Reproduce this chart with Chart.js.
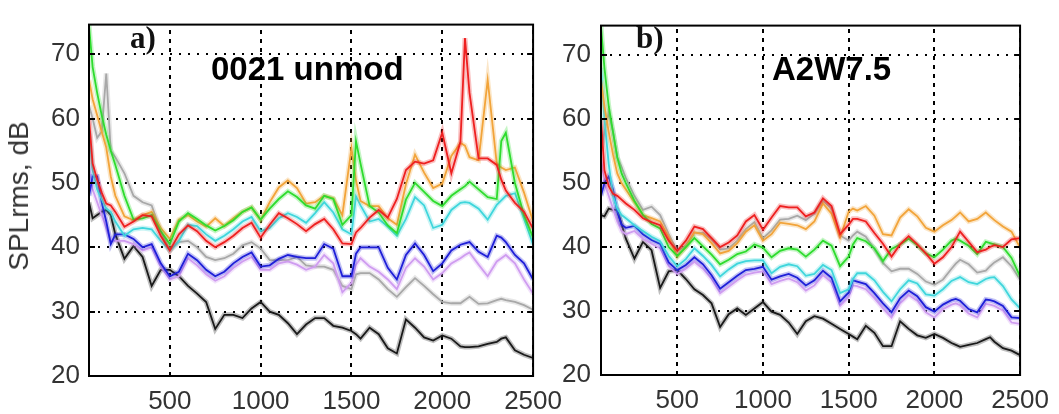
<!DOCTYPE html>
<html>
<head>
<meta charset="utf-8">
<script src="https://cdn.jsdelivr.net/npm/chart.js@4.4.0/dist/chart.umd.min.js"></script>
<style>
  html, body { margin: 0; padding: 0; background: #fff; }
  body { width: 1059px; height: 414px; position: relative; overflow: hidden; font-family: "Liberation Sans", Arial, sans-serif; }
  .box { position: absolute; top: 0; height: 414px; }
  #boxA { left: 0; width: 572px; }
  #boxB { left: 520px; width: 539px; }
  .tag { position: absolute; font-family: "Liberation Serif", "Times New Roman", serif; font-weight: bold; font-size: 31px; line-height: 31px; color: #111; }
  .ttl { position: absolute; font-weight: bold; font-size: 33px; line-height: 33px; color: #000; white-space: nowrap; }
  #ylab { position: absolute; left: 19px; top: 196px; transform: translate(-50%, -50%) rotate(-90deg); font-size: 28px; color: #333; white-space: nowrap; }
</style>
</head>
<body>
<div class="box" id="boxA"><canvas id="chartA"></canvas></div>
<div class="box" id="boxB"><canvas id="chartB"></canvas></div>
<div id="ylab">SPLrms, dB</div>
<div class="tag" style="left:130px; top:22px;">a)</div>
<div class="tag" style="left:636px; top:22px;">b)</div>
<div class="ttl" style="left:211px; top:52px;">0021 unmod</div>
<div class="ttl" style="left:772px; top:52px;">A2W7.5</div>
<script>
// frequency grid (Hz) shared by every curve
const freq = [55, 75, 100, 125, 150, 175, 200,
  250, 300, 350, 400, 450, 500, 550, 600, 650, 700,
  750, 800, 850, 900, 950, 1000, 1050, 1100, 1150, 1200,
  1250, 1300, 1350, 1400, 1450, 1500, 1525, 1550, 1600, 1650,
  1700, 1750, 1800, 1850, 1900, 1950, 2000, 2050, 2100, 2125,
  2150, 2200, 2250, 2300, 2325, 2350, 2400, 2450, 2500];

const xTicks = [500, 1000, 1500, 2000, 2500];
const yTicks = [20, 30, 40, 50, 60, 70];

// ---- panel a) 0021 unmod ----
const blackA = [47, 44.5, 45, 45.5, 45.8, 45, 42,
  38.2, 40.2, 38.5, 34, 36.5, 36.5, 35.5, 34, 32.8, 31.5,
  27.3, 29.5, 29.5, 29, 30.5, 31.5, 30, 29.5, 28.2, 26.5,
  28, 29, 29, 27.8, 27.5, 27, 26.5, 25.8, 27.5, 26.5,
  24.3, 23.5, 28.8, 27.5, 26, 25.5, 26.3, 25.8, 24.6, 24.5,
  24.5, 24.6, 25, 25.3, 25.8, 26, 24, 23.3, 22.8];
const grayA = [62, 60, 57, 58, 67, 55, 54,
  51.5, 48, 47, 46.5, 42.5, 39.5, 40.8, 41, 40, 38.5,
  38, 38.3, 39, 40.3, 40.8, 39.8, 38, 38, 38, 38.5,
  37.2, 37, 37, 36.5, 34, 33.5, 35.8, 36, 36, 35,
  33.5, 32.3, 33.8, 35.2, 34, 32.7, 31.5, 31.3, 31.3, 31.8,
  32.3, 31.2, 31.3, 31.8, 32, 31.8, 31.5, 31, 30.3];
const violetA = [53, 49, 47, 45, 43, 41, 41,
  41, 40.5, 39.5, 40, 37, 35, 35.5, 38.3, 37.2, 35.8,
  34.8, 35.5, 36.8, 37.8, 38.5, 36.5, 36.5, 37.5, 37.8, 37.3,
  36.5, 37, 38.8, 37.5, 33, 34.5, 37.3, 38.3, 37, 36.2,
  35, 33.5, 36.8, 38.3, 37, 35, 36, 37.5, 38.3, 38.8,
  39.2, 37.3, 35.5, 37.8, 38.3, 38.8, 37.5, 35, 32.8];
const blueA = [48, 51, 51, 47, 44, 40.5, 42,
  42, 41.3, 40, 40.5, 37.5, 35.5, 36.2, 39, 38, 36.5,
  35.5, 36.2, 37.5, 38.5, 39.2, 37, 37.2, 38.2, 38.8, 38.5,
  38.3, 38.3, 40.5, 39.8, 35.5, 35.5, 39, 40, 40, 40,
  36.8, 35, 38.8, 40.6, 38.8, 36.3, 37.5, 39.5, 40.4, 40.6,
  40.8, 39.3, 38.5, 41.8, 41.5, 40.8, 38.8, 37.5, 35];
const cyanA = [58, 52, 49, 47.5, 46, 45.5, 44,
  41.8, 42.8, 43, 42.8, 41, 39.5, 41, 43.5, 43.3, 42,
  41, 41.8, 42.8, 44, 44.7, 42.5, 43, 44.5, 45.3, 44.7,
  43.8, 45.3, 47, 45.4, 42.8, 42, 47.9, 46.5, 44, 44.4,
  43.2, 41.8, 44.4, 47.8, 46.5, 43, 43.5, 45.8, 46.9, 47,
  46.9, 46, 44.3, 46.6, 47.3, 48, 48.4, 44.5, 40.4];
const redA = [60, 53, 50.5, 48.5, 46.8, 46.5, 45.5,
  43.2, 44, 45, 44.8, 41.8, 39.5, 42, 43.4, 42.5, 41,
  40, 40.8, 41.8, 43, 43.8, 41.5, 43.5, 45.3, 44.5, 43.6,
  42.5, 43.6, 44.4, 42.8, 40.6, 40.5, 42.3, 43, 44.6, 45.8,
  44.6, 47.5, 52, 53.3, 53, 53.5, 57.8, 51.5, 56.4, 72.5,
  64, 53.8, 53.8, 52.8, 50.5, 48.8, 46.9, 45.5, 42.9];
const greenA = [74.5, 68, 64, 60.5, 57.5, 55, 52.8,
  48, 44.3, 44.5, 45, 42.5, 40.5, 44, 45.3, 44.4, 43.4,
  42.6, 43.3, 44.2, 45.5, 46.2, 44.3, 46, 47.5, 48.7, 47.8,
  46.5, 46, 48, 47.5, 43.5, 45, 56.5, 53, 46.4, 45.4,
  43.4, 42.2, 47.4, 50, 48.6, 47.2, 46.4, 48, 49, 49.5,
  50.2, 49, 47.8, 47.5, 56.5, 57.8, 50, 45, 41.5];
const orangeA = [66, 63, 60.5, 58, 55.5, 51, 48,
  44.8, 44.2, 45, 45.5, 43, 41.3, 44.3, 45, 44, 43.2,
  44.5, 43.3, 44.5, 45.5, 46.2, 44.2, 47, 49.3, 50.4, 49.2,
  46.8, 47, 48, 47.6, 45, 55.4, 50.4, 47.2, 46.4, 46.4,
  44.5, 43.5, 49.8, 54.4, 51.6, 49.2, 49.9, 54.2, 56.2, 55.8,
  54, 53.5, 66, 53, 52.4, 52, 52.4, 48.5, 44];

// ---- panel b) A2W7.5 ----
const blackB = [45, 44.8, 46, 45.8, 45.8, 43.5, 41.3,
  38.2, 40.8, 39.5, 33.6, 36.2, 36.4, 35, 33.4, 32.5, 31.2,
  27.5, 29.5, 30.4, 29.4, 30.4, 31.4, 29.9, 29.4, 28.2, 26.4,
  28.4, 29.2, 28.8, 28, 27.2, 26.4, 26, 25.6, 27.7, 26.6,
  24.5, 24.5, 28.4, 27.2, 26.2, 25.8, 26.4, 25.8, 25, 24.7,
  24.4, 24.7, 25, 25.6, 25.9, 25.2, 24.2, 23.8, 23.1];
const grayB = [55, 58, 61, 58, 54, 52.5, 50.8,
  48, 45.8, 46.3, 45, 42, 39.4, 40.2, 42.2, 42.2, 41.2,
  39.6, 39.8, 41, 42.8, 43.9, 41.4, 42.6, 44.3, 44.4, 44.9,
  44.2, 45.2, 47.2, 46, 41.8, 41, 41.8, 42.4, 41.6, 39.7,
  37.5, 36.2, 36.6, 36.6, 35.8, 34.6, 34.1, 34.9, 36.6, 37.4,
  38, 37.3, 36, 36.3, 37, 37.6, 38.4, 37, 34.9];
const violetB = [54, 50, 48, 46, 44, 42.5, 42,
  42.5, 41.3, 40.5, 39.8, 37, 35.8, 36.6, 37.7, 36.6, 35,
  32.8, 33.8, 34.8, 35.7, 36, 36.2, 34.2, 34.7, 35.1, 34.5,
  33.2, 34, 35.6, 34.5, 30.8, 32.2, 34, 33.9, 33.4, 32,
  30.4, 29, 31.2, 32.5, 31.6, 29.8, 29, 30.3, 31, 31.2,
  30.9, 29.6, 29, 31.1, 31, 30.8, 30.1, 28.2, 28];
const blueB = [48, 50, 51, 49, 45.5, 43.5, 43,
  43.3, 42, 41.1, 40.5, 37.6, 36.4, 37.2, 38.4, 37.3, 35.6,
  33.5, 34.5, 35.5, 36.4, 36.6, 36.9, 34.9, 35.4, 35.8, 35.2,
  34, 34.8, 36.3, 35.2, 31.5, 32.9, 34.8, 34.6, 34.2, 32.8,
  31.2, 29.8, 32, 33.2, 32.3, 30.6, 29.9, 31, 31.7, 31.9,
  31.6, 30.3, 29.8, 31.8, 31.7, 31.5, 30.8, 29, 28.9];
const cyanB = [68, 60, 53, 48, 46, 45, 44.5,
  43.4, 42.5, 41.6, 40.9, 38.6, 37, 38.1, 39.8, 38.6, 37.2,
  35.4, 36.5, 37.4, 37.8, 37.9, 37.9, 35.9, 36.9, 37.3, 37,
  35.5, 35.8, 37.2, 36.4, 32.8, 33.4, 35, 35.9, 35.9, 34.8,
  33, 31.5, 33.4, 34.8, 34.3, 32.6, 32.4, 33.4, 34.7, 35,
  35.3, 34.5, 34.2, 35, 35.2, 35.3, 33.9, 31.8, 30.4];
const redB = [60, 52, 49.5, 48.3, 48, 47.4, 46.8,
  45.8, 44.5, 43.9, 43.4, 41, 39.4, 41, 43.2, 42.8, 41.4,
  40, 40.7, 41.8, 44, 45, 42.7, 44.6, 46.4, 46.2, 46.2,
  44.8, 45.4, 47.6, 46.4, 42, 43.5, 44.4, 44.4, 44, 42.2,
  40.5, 38.5, 40.4, 41.7, 40.4, 39, 37.4, 38.4, 40, 41.2,
  42.4, 40.8, 39.2, 39.6, 40, 40.3, 40, 41.2, 41.4];
const greenB = [74.5, 68, 62, 58, 54, 51.5, 50,
  47.2, 45, 43.6, 42.9, 40, 38.6, 40, 41.4, 40.1, 38.8,
  37.3, 38, 38.9, 39.3, 40.4, 39.9, 38.4, 39.4, 39.8, 39.6,
  38.5, 39.6, 41, 40.2, 37, 38.5, 40.4, 41.4, 40.9, 39.8,
  37.8, 39.7, 40.4, 41.3, 40.3, 39, 38.4, 39.6, 41, 41.3,
  41, 40.2, 38.9, 40.8, 40.6, 40.4, 40, 38.3, 35.4];
const orangeB = [66, 62, 58, 54.5, 51.5, 50, 49,
  47, 45, 44.5, 44, 41.5, 38.5, 40, 42.3, 42, 40.6,
  39, 39.4, 40.6, 42.4, 43.4, 41, 42, 43.8, 43.6, 43.4,
  42.8, 44, 46.8, 45.2, 41.5, 45.5, 46, 45.7, 46.4, 44.9,
  42, 41.8, 44.6, 45.9, 44.8, 43, 42.4, 43.4, 44.2, 44.8,
  45.4, 44, 44.4, 45.4, 44.8, 44.2, 43.2, 42.4, 39.9];

// colours, listed top-most first
const colors = {
  red: [238, 32, 32],
  green: [46, 220, 46],
  orange: [242, 164, 58],
  cyan: [63, 214, 220],
  blue: [31, 31, 216],
  violet: [207, 156, 240],
  gray: [168, 168, 168],
  black: [26, 26, 26]
};

function buildSets(series) {
    let sets = [];
    Object.keys(colors).forEach(function (k) {
        let c = colors[k];
        let pts = freq.map(function (f, i) { return {x: f, y: series[k][i]}; });
        sets.push({
            data: pts,
            borderColor: 'rgb(' + c.join(',') + ')',
            borderWidth: 1.8,
            pointRadius: 0,
            tension: 0
        });
        sets.push({
            data: pts,
            borderColor: 'rgba(' + c.join(',') + ',0.28)',
            borderWidth: 5,
            pointRadius: 0,
            tension: 0
        });
    });
    return sets;
}

// dotted grid, box and inward ticks, matlab style
const frame = {
    id: 'frame',
    beforeDatasetsDraw(chart) {
        const ctx = chart.ctx, a = chart.chartArea, x = chart.scales.x, y = chart.scales.y;
        ctx.save();
        ctx.strokeStyle = '#000';
        ctx.lineWidth = 2;
        ctx.setLineDash([4, 5]);
        xTicks.forEach(function (v) {
            let px = Math.round(x.getPixelForValue(v));
            ctx.beginPath(); ctx.moveTo(px, a.bottom); ctx.lineTo(px, a.top); ctx.stroke();
        });
        ctx.setLineDash([2, 7]);
        yTicks.forEach(function (v) {
            let py = Math.round(y.getPixelForValue(v));
            ctx.beginPath(); ctx.moveTo(a.left, py); ctx.lineTo(a.right, py); ctx.stroke();
        });
        ctx.restore();
    },
    afterDatasetsDraw(chart) {
        const ctx = chart.ctx, a = chart.chartArea, y = chart.scales.y;
        ctx.save();
        ctx.strokeStyle = '#000';
        ctx.lineWidth = 2;
        yTicks.forEach(function (v) {
            let py = Math.round(y.getPixelForValue(v));
            ctx.beginPath(); ctx.moveTo(a.right - 6, py); ctx.lineTo(a.right, py); ctx.stroke();
            ctx.beginPath(); ctx.moveTo(a.left, py); ctx.lineTo(a.left + 6, py); ctx.stroke();
        });
        ctx.strokeRect(a.left, a.top, a.right - a.left, a.bottom - a.top);
        ctx.restore();
    }
};

Chart.defaults.font.family = '"Liberation Sans", Arial, sans-serif';

function plain(v) { return String(v); }

function makeChart(id, series, yWidth, xHeight, yPad, padRight) {
    return new Chart(document.getElementById(id), {
        type: 'line',
        data: { datasets: buildSets(series) },
        options: {
            responsive: true,
            maintainAspectRatio: false,
            animation: false,
            events: [],
            layout: { padding: { top: 13, right: padRight, left: 0, bottom: 0 } },
            plugins: { legend: { display: false }, tooltip: { enabled: false } },
            scales: {
                x: {
                    type: 'linear',
                    min: 55,
                    max: 2500,
                    grid: { display: false, drawTicks: false },
                    border: { display: false },
                    afterBuildTicks: function (s) { s.ticks = xTicks.map(function (v) { return {value: v}; }); },
                    afterFit: function (s) { s.height = xHeight; },
                    ticks: { color: '#333', font: { size: 26 }, padding: 10, maxRotation: 0, autoSkip: false, callback: plain }
                },
                y: {
                    min: 20,
                    max: 74.6,
                    grid: { display: false, drawTicks: false },
                    border: { display: false },
                    afterBuildTicks: function (s) { s.ticks = yTicks.map(function (v) { return {value: v}; }); },
                    afterFit: function (s) { s.width = yWidth; },
                    ticks: { color: '#333', font: { size: 26 }, padding: yPad, callback: plain }
                }
            }
        },
        plugins: [frame]
    });
}

makeChart('chartA', {
    red: redA, green: greenA, orange: orangeA, cyan: cyanA,
    blue: blueA, violet: violetA, gray: grayA, black: blackA
}, 89, 38, 9, 30);

makeChart('chartB', {
    red: redB, green: greenB, orange: orangeB, cyan: cyanB,
    blue: blueB, violet: violetB, gray: grayB, black: blackB
}, 81, 39, 10, 32);
</script>
</body>
</html>
